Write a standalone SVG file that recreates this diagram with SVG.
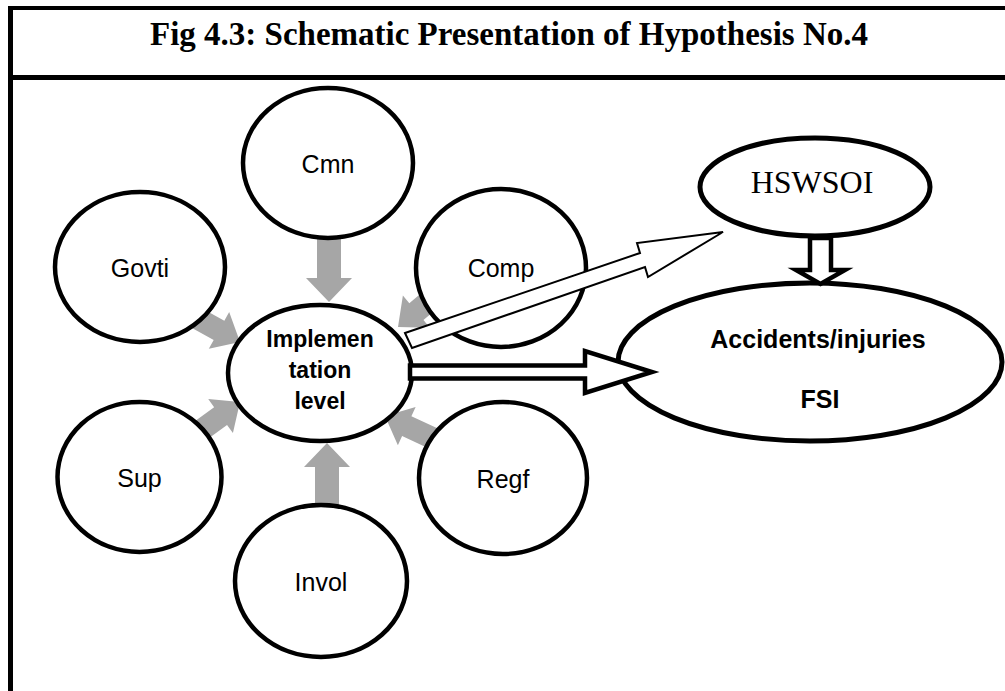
<svg xmlns="http://www.w3.org/2000/svg" width="1005" height="691" viewBox="0 0 1005 691">
  <style>
    .frame { stroke: #000; fill: none; }
    .node { fill: #fff; stroke: #000; stroke-width: 4.5; }
    .thick { fill: #fff; stroke: #000; stroke-width: 5; }
    .lbl { font-family: "Liberation Sans", Arial, sans-serif; font-size: 25px; fill: #000; text-anchor: middle; }
    .bold { font-family: "Liberation Sans", Arial, sans-serif; font-weight: bold; fill: #000; text-anchor: middle; }
    .serif { font-family: "Liberation Serif", "Times New Roman", serif; fill: #000; }
    .gray { fill: #a6a6a6; stroke: none; }
    .block { fill: #fff; stroke: #000; stroke-linejoin: miter; }
  </style>
  <defs>
    <!-- gray block arrow, tip at origin, pointing along +x -->
    <polygon id="garrow" points="-64,-12 -24,-12 -24,-23 0,0 -24,23 -24,12 -64,12"/>
    <polygon id="garrowLong" points="-70,-11 -24,-11 -24,-21 0,0 -24,21 -24,11 -70,11"/>
  </defs>

  <rect width="1005" height="691" fill="#fff"/>

  <!-- outer frame and header divider -->
  <g id="frame" class="frame">
    <line x1="10.5" y1="6" x2="10.5" y2="691" stroke-width="5"/>
    <line x1="8" y1="8" x2="1005" y2="8" stroke-width="4"/>
    <line x1="8" y1="77.5" x2="1005" y2="77.5" stroke-width="5"/>
  </g>
  <text id="title" class="serif" x="150" y="45" font-size="33" font-weight="bold">Fig 4.3: Schematic Presentation of Hypothesis No.4</text>

  <!-- influence arrows into the implementation level -->
  <g id="connectors">
    <use href="#garrow" class="gray" transform="translate(329,302) rotate(90)"/>
    <use href="#garrow" class="gray" transform="translate(327,443) rotate(-90)"/>
    <use href="#garrowLong" class="gray" transform="translate(240,342) rotate(29)"/>
    <use href="#garrowLong" class="gray" transform="translate(240,402) rotate(-36)"/>
    <use href="#garrowLong" class="gray" transform="translate(385,416) rotate(205)"/>
    <use href="#garrowLong" class="gray" transform="translate(398,327) rotate(140)"/>
  </g>

  <g id="node-cmn">
    <ellipse class="node" cx="328" cy="163" rx="85" ry="75"/>
    <text class="lbl" x="328" y="173">Cmn</text>
  </g>
  <g id="node-govti">
    <ellipse class="node" cx="140" cy="267" rx="85" ry="75"/>
    <text class="lbl" x="140" y="277">Govti</text>
  </g>
  <g id="node-comp">
    <ellipse class="node" cx="501" cy="268" rx="85" ry="79"/>
    <text class="lbl" x="501" y="277">Comp</text>
  </g>
  <g id="node-sup">
    <ellipse class="node" cx="139.5" cy="477" rx="82" ry="75"/>
    <text class="lbl" x="139.5" y="487">Sup</text>
  </g>
  <g id="node-regf">
    <ellipse class="node" cx="503" cy="478" rx="84" ry="76"/>
    <text class="lbl" x="503" y="488">Regf</text>
  </g>
  <g id="node-invol">
    <ellipse class="node" cx="321" cy="581" rx="86" ry="76"/>
    <text class="lbl" x="321" y="591">Invol</text>
  </g>
  <g id="node-implementation">
    <ellipse class="node" cx="320" cy="373" rx="92" ry="68"/>
    <text class="bold" font-size="23" x="320" y="347">Implemen</text>
    <text class="bold" font-size="23" x="320" y="378">tation</text>
    <text class="bold" font-size="23" x="320" y="409">level</text>
  </g>

  <g id="node-hswsoi">
    <ellipse class="thick" cx="815" cy="187" rx="115" ry="49"/>
    <text class="serif" x="812" y="193" font-size="32" text-anchor="middle">HSWSOI</text>
  </g>
  <g id="node-accidents">
    <ellipse class="thick" cx="810" cy="362" rx="192" ry="79"/>
    <text class="bold" font-size="25" x="818" y="348">Accidents/injuries</text>
    <text class="bold" font-size="25" x="820" y="408">FSI</text>
  </g>

  <!-- outlined arrows towards outcomes -->
  <g id="outcome-connectors">
    <polygon class="block" stroke-width="2" points="405,333 640,253 637,243 723,232 648,277 645,267 412,348"/>
    <polygon class="block" stroke-width="4.5" points="410,365.5 585,365.5 585,351 652,372 585,393 585,378.5 410,378.5"/>
    <polygon class="block" stroke-width="4.5" points="810,238 831,238 831,270 845,270 820.5,284 796,270 810,270"/>
  </g>
</svg>
